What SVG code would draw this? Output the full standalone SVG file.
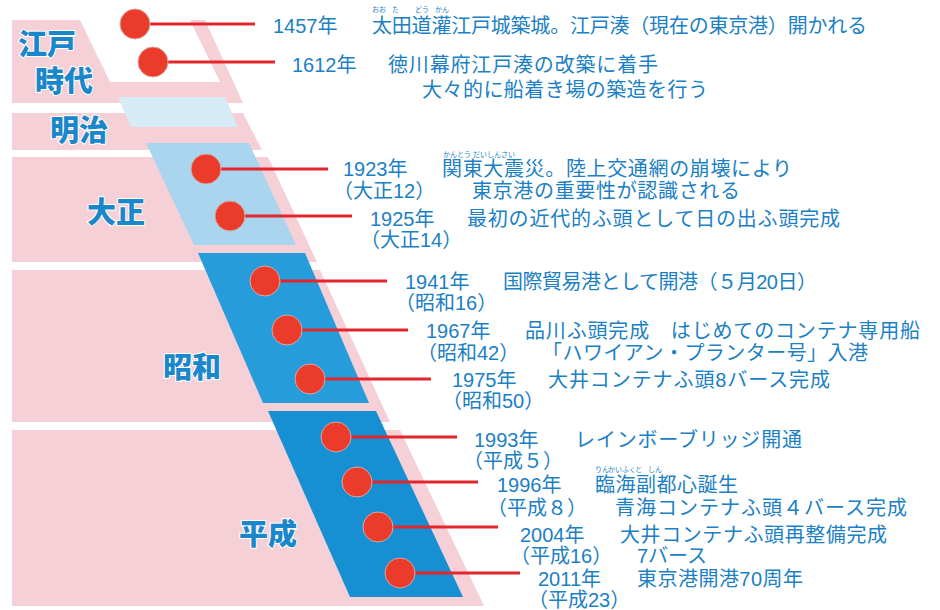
<svg xmlns="http://www.w3.org/2000/svg" width="940" height="610" viewBox="0 0 940 610">
<style>
.band{fill:#f5d0d6}
.era{font-family:'Noto Sans CJK JP',sans-serif;font-weight:900;font-size:29px;fill:#1a87cb;stroke:#ffffff;stroke-width:2;paint-order:stroke}
.t{font-family:'Liberation Sans','Noto Sans CJK JP',sans-serif;font-size:20px;fill:#1b80c4}
.r{font-family:'Noto Sans CJK JP',sans-serif;font-size:7px;fill:#1b80c4}
.dot{fill:#ea3b2b;stroke:#d9a8a4;stroke-width:1}
.ln{stroke:#e2262c;stroke-width:3;fill:none}
</style>
<rect width="940" height="610" fill="#ffffff"/>
<g id="era-edo">
<polygon class="band" points="12,20 205,20 243,103 12,103"/>
<polygon fill="#ffffff" points="80,20 190,20 220,82 110,82"/>
<text class="era" x="18" y="55">江戸</text>
<text class="era" x="35" y="92">時代</text>
</g>
<g id="era-meiji">
<polygon class="band" points="12,113 243,113 262,150 12,150"/>
<polygon fill="#d7ebf6" points="118,97 225,97 238,127 131,127"/>
<text class="era" x="50" y="141">明治</text>
</g>
<g id="era-taisho">
<polygon class="band" points="12,157 268,157 317,262 12,262"/>
<polygon fill="#a9d5ef" points="146,143 249,143 296,245 194,245"/>
<text class="era" x="87" y="223">大正</text>
</g>
<g id="era-showa">
<polygon class="band" points="12,270 320,270 390,422 12,422"/>
<polygon fill="#279cda" points="198,253 305,253 369,403 263,403"/>
<text class="era" x="163" y="378">昭和</text>
</g>
<g id="era-heisei">
<polygon class="band" points="12,430 400,430 484,606 12,606"/>
<polygon fill="#178fd3" points="268,411 376,411 463,597 350,597"/>
<text class="era" x="239" y="545">平成</text>
</g>
<g id="connectors">
<line class="ln" x1="135" y1="24" x2="255" y2="24"/>
<line class="ln" x1="153" y1="62" x2="275" y2="62"/>
<line class="ln" x1="206" y1="169" x2="328" y2="169"/>
<line class="ln" x1="230" y1="216" x2="352" y2="216"/>
<line class="ln" x1="265" y1="281" x2="387" y2="281"/>
<line class="ln" x1="287" y1="330" x2="408" y2="330"/>
<line class="ln" x1="310" y1="379" x2="431" y2="379"/>
<line class="ln" x1="336" y1="437" x2="457" y2="437"/>
<line class="ln" x1="357" y1="482" x2="478" y2="482"/>
<line class="ln" x1="378" y1="527" x2="498" y2="527"/>
<line class="ln" x1="400" y1="573" x2="520" y2="573"/>
</g>
<g id="ev-1457">
<circle class="dot" cx="135" cy="24" r="15"/>
<text class="t" x="273" y="33">1457年</text>
<text class="t" x="372" y="33" textLength="495" lengthAdjust="spacing">太田道灌江戸城築城。江戸湊（現在の東京港）開かれる</text>
<text class="r" x="372" y="12">おお</text>
<text class="r" x="392" y="12">た</text>
<text class="r" x="415" y="12">どう</text>
<text class="r" x="435" y="12">かん</text>
</g>
<g id="ev-1612">
<circle class="dot" cx="153" cy="62" r="15"/>
<text class="t" x="292" y="72">1612年</text>
<text class="t" x="388" y="72" textLength="270" lengthAdjust="spacing">徳川幕府江戸湊の改築に着手</text>
<text class="t" x="422" y="97" textLength="286" lengthAdjust="spacing">大々的に船着き場の築造を行う</text>
</g>
<g id="ev-1923">
<circle class="dot" cx="206" cy="169" r="15"/>
<text class="t" x="343" y="176">1923年</text>
<text class="t" x="333" y="198">（大正12）</text>
<text class="t" x="442" y="176" textLength="350" lengthAdjust="spacing">関東大震災。陸上交通網の崩壊により</text>
<text class="r" x="443" y="157">かん</text>
<text class="r" x="457" y="157">とう</text>
<text class="r" x="473" y="157">だいしんさい</text>
<text class="t" x="472" y="198" textLength="268" lengthAdjust="spacing">東京港の重要性が認識される</text>
</g>
<g id="ev-1925">
<circle class="dot" cx="230" cy="216" r="15"/>
<text class="t" x="370" y="226">1925年</text>
<text class="t" x="360" y="247">（大正14）</text>
<text class="t" x="467" y="226" textLength="373" lengthAdjust="spacing">最初の近代的ふ頭として日の出ふ頭完成</text>
</g>
<g id="ev-1941">
<circle class="dot" cx="265" cy="281" r="15"/>
<text class="t" x="405" y="289">1941年</text>
<text class="t" x="395" y="310">（昭和16）</text>
<text class="t" x="503" y="289" textLength="314" lengthAdjust="spacing">国際貿易港として開港（５月20日）</text>
</g>
<g id="ev-1967">
<circle class="dot" cx="287" cy="330" r="15"/>
<text class="t" x="426" y="338">1967年</text>
<text class="t" x="417" y="360">（昭和42）</text>
<text class="t" x="525" y="338" textLength="395" lengthAdjust="spacing">品川ふ頭完成　はじめてのコンテナ専用船</text>
<text class="t" x="542" y="360" textLength="326" lengthAdjust="spacing">「ハワイアン・プランター号」入港</text>
</g>
<g id="ev-1975">
<circle class="dot" cx="310" cy="379" r="15"/>
<text class="t" x="452" y="387">1975年</text>
<text class="t" x="442" y="408">（昭和50）</text>
<text class="t" x="548" y="387" textLength="282" lengthAdjust="spacing">大井コンテナふ頭8バース完成</text>
</g>
<g id="ev-1993">
<circle class="dot" cx="336" cy="437" r="15"/>
<text class="t" x="474" y="447">1993年</text>
<text class="t" x="463" y="468">（平成５）</text>
<text class="t" x="575" y="447" textLength="227" lengthAdjust="spacing">レインボーブリッジ開通</text>
</g>
<g id="ev-1996">
<circle class="dot" cx="357" cy="482" r="15"/>
<text class="t" x="497" y="492">1996年</text>
<text class="t" x="487" y="515">（平成８）</text>
<text class="t" x="595" y="492" textLength="143" lengthAdjust="spacing">臨海副都心誕生</text>
<text class="r" x="595" y="472">りん</text>
<text class="r" x="608" y="472">かい</text>
<text class="r" x="622" y="472">ふく</text>
<text class="r" x="635" y="472">と</text>
<text class="r" x="648" y="472">しん</text>
<text class="t" x="615" y="515" textLength="292" lengthAdjust="spacing">青海コンテナふ頭４バース完成</text>
</g>
<g id="ev-2004">
<circle class="dot" cx="378" cy="527" r="15"/>
<text class="t" x="520" y="542">2004年</text>
<text class="t" x="510" y="563">（平成16）</text>
<text class="t" x="620" y="542" textLength="267" lengthAdjust="spacing">大井コンテナふ頭再整備完成</text>
<text class="t" x="637" y="563">7バース</text>
</g>
<g id="ev-2011">
<circle class="dot" cx="400" cy="573" r="15"/>
<text class="t" x="538" y="586">2011年</text>
<text class="t" x="528" y="607">（平成23）</text>
<text class="t" x="637" y="586" textLength="166" lengthAdjust="spacing">東京港開港70周年</text>
</g>
</svg>
